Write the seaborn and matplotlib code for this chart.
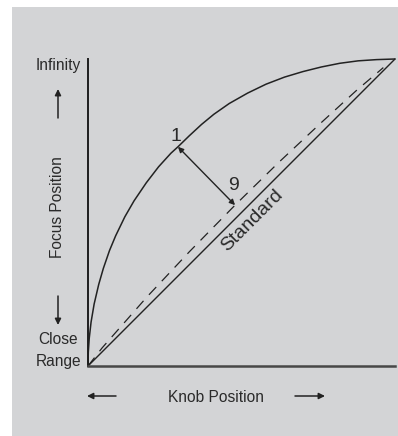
import matplotlib
matplotlib.use("Agg")
import matplotlib.pyplot as plt
import seaborn as sns
import pandas as pd
from matplotlib.patches import Rectangle

# Knob position (0 = close-range end, 1 = infinity end) vs. focus position
curve_knob  = [0.000, 0.001, 0.004, 0.010, 0.020, 0.035, 0.050, 0.070, 0.090, 0.120,
               0.150, 0.190, 0.230, 0.270, 0.293, 0.330, 0.370, 0.410, 0.460, 0.520,
               0.580, 0.640, 0.700, 0.760, 0.820, 0.880, 0.940, 1.000]
curve_focus = [0.000, 0.045, 0.090, 0.143, 0.202, 0.266, 0.318, 0.376, 0.424, 0.486,
               0.538, 0.597, 0.649, 0.693, 0.714, 0.750, 0.787, 0.820, 0.855, 0.889,
               0.918, 0.941, 0.959, 0.974, 0.986, 0.994, 0.998, 1.000]

# reference (dashed) response
ref_knob  = [0.000, 0.046, 0.192, 0.330, 0.479, 0.620, 0.760, 0.876, 0.941, 0.962]
ref_focus = [0.000, 0.059, 0.225, 0.372, 0.524, 0.662, 0.793, 0.899, 0.954, 0.972]

# standard linear response
std_knob  = [0.0, 1.0]
std_focus = [0.0, 1.0]

sns.set_theme(style="white")
plt.rcParams["font.family"] = ["Liberation Sans", "DejaVu Sans"]

W, H = 398, 436
fig = plt.figure(figsize=(W / 100, H / 100), dpi=100, facecolor="white")
fig.patches.append(Rectangle((12 / W, 0), 1 - 12 / W, 1 - 7 / H,
                             transform=fig.transFigure, facecolor="#d3d4d6",
                             edgecolor="none", zorder=-10))

x0, x1, y0, y1 = 88, 395, 59, 366
ax = fig.add_axes([x0 / W, (H - y1) / H, (x1 - x0) / W, (y1 - y0) / H])
ax.set_facecolor("none")
ax.set_xlim(0, 1)
ax.set_ylim(0, 1)

ink = "#222222"
curve_df = pd.DataFrame({"knob": curve_knob, "focus": curve_focus})
ref_df = pd.DataFrame({"knob": ref_knob, "focus": ref_focus})
std_df = pd.DataFrame({"knob": std_knob, "focus": std_focus})

sns.lineplot(data=curve_df, x="knob", y="focus", sort=False, estimator=None,
             color=ink, lw=1.1, ax=ax, clip_on=False)
sns.lineplot(data=ref_df, x="knob", y="focus", sort=False, estimator=None,
             color=ink, lw=0.9, ax=ax, clip_on=False)
ax.lines[-1].set_dashes((8.5, 6.5))
sns.lineplot(data=std_df, x="knob", y="focus", sort=False, estimator=None,
             color=ink, lw=1.0, ax=ax, clip_on=False)

for s in ["top", "right"]:
    ax.spines[s].set_visible(False)
ax.spines["left"].set_color("#1e1e1e")
ax.spines["left"].set_linewidth(1.4)
ax.spines["bottom"].set_color("#474747")
ax.spines["bottom"].set_linewidth(1.8)
ax.set_xticks([])
ax.set_yticks([])
ax.set_xlabel("")
ax.set_ylabel("")


def px(x, y):
    """pixel position -> data coordinates"""
    return (x - x0) / (x1 - x0), (y1 - y) / (y1 - y0)


fs = 11.2
tc = "#2a2a2a"
ax.text(*px(58, 66), "Infinity", ha="center", va="center", fontsize=fs, color=tc, clip_on=False)
ax.text(*px(58, 339), "Close", ha="center", va="center", fontsize=fs, color=tc, clip_on=False)
ax.text(*px(59, 361), "Range", ha="center", va="center", fontsize=fs, color=tc, clip_on=False)
ax.text(*px(57, 207), "Focus Position", ha="center", va="center", rotation=90,
        fontsize=fs, color=tc, clip_on=False)
ax.text(*px(216, 397), "Knob Position", ha="center", va="center", fontsize=fs,
        color=tc, clip_on=False)

arrow_kw = dict(arrowstyle="-|>", color=ink, lw=1.1, mutation_scale=9,
                shrinkA=0, shrinkB=0)
ax.annotate("", xy=px(58, 89), xytext=px(58, 118), arrowprops=arrow_kw, annotation_clip=False)
ax.annotate("", xy=px(58, 325), xytext=px(58, 296), arrowprops=arrow_kw, annotation_clip=False)
ax.annotate("", xy=px(87, 396), xytext=px(116, 396), arrowprops=arrow_kw, annotation_clip=False)
ax.annotate("", xy=px(325, 396), xytext=px(295, 396), arrowprops=arrow_kw, annotation_clip=False)

# offset between the curve and the reference line
ax.annotate("", xy=(ref_knob[4], ref_focus[4]), xytext=(curve_knob[14], curve_focus[14]),
            arrowprops=dict(arrowstyle="<|-|>", color=ink, lw=1.0, mutation_scale=8,
                            shrinkA=0, shrinkB=0))
ax.text(*px(176, 137), "1", ha="center", va="center", fontsize=14, color=tc)
ax.text(*px(234, 186), "9", ha="center", va="center", fontsize=14, color=tc)
ax.text(*px(252, 221), "Standard", ha="center", va="center", rotation=45,
        rotation_mode="anchor", fontsize=14, color=tc)

fig.savefig("out.png", dpi=100, facecolor="white")
